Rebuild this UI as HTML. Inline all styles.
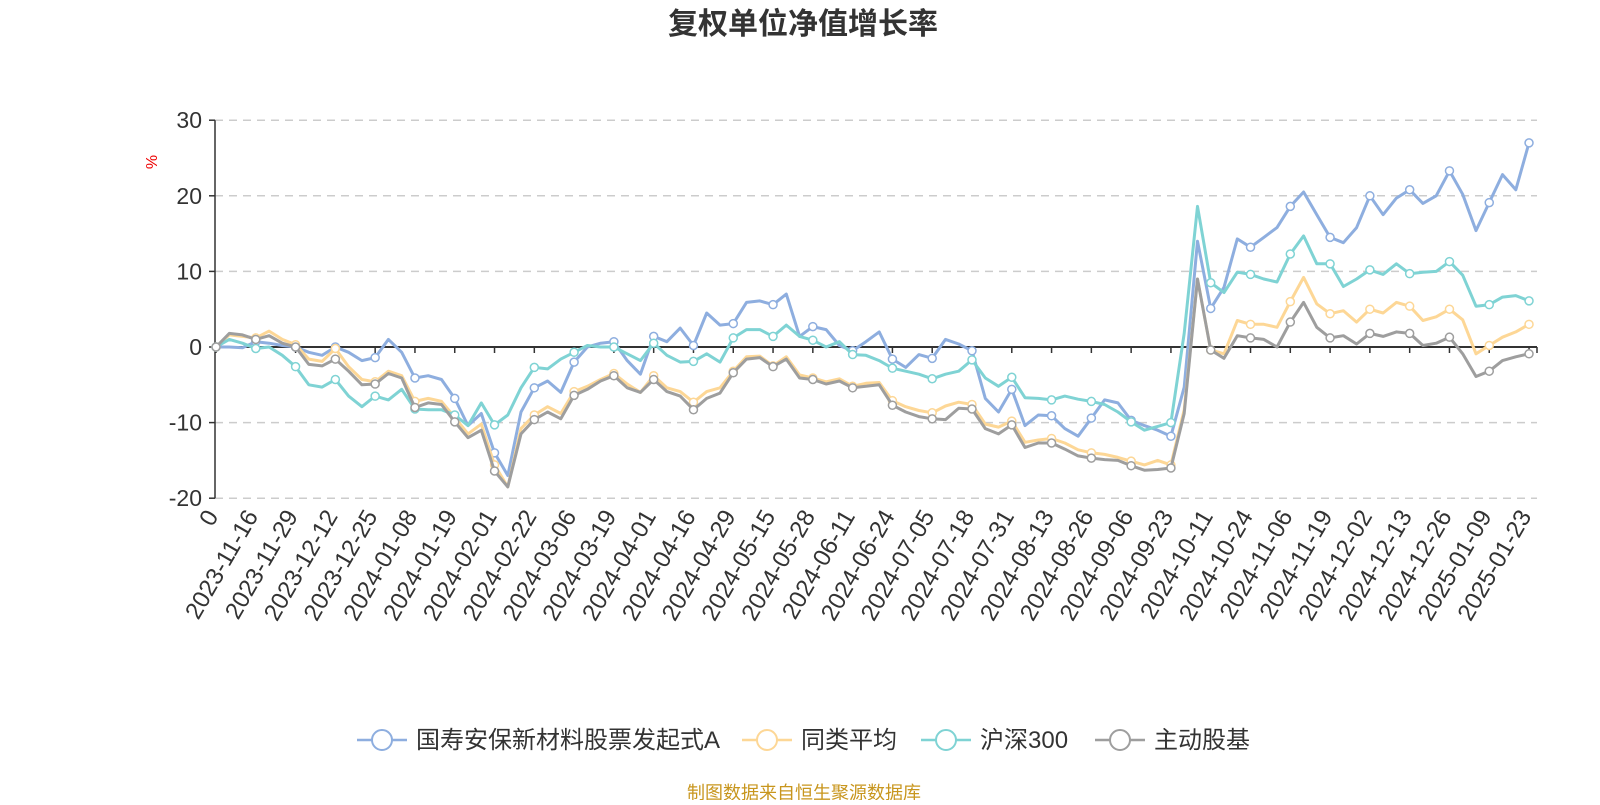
<!DOCTYPE html>
<html>
<head>
<meta charset="utf-8">
<style>
  html,body{margin:0;padding:0;background:#fff;}
  body{width:1600px;height:800px;overflow:hidden;font-family:"Liberation Sans","Noto Sans CJK SC",sans-serif;}
  svg text{font-family:"Liberation Sans","Noto Sans CJK SC",sans-serif;}
</style>
</head>
<body>
<svg id="chart" width="1600" height="800" viewBox="0 0 1600 800" xmlns="http://www.w3.org/2000/svg">
  <text x="803" y="34" text-anchor="middle" font-size="30" font-weight="bold" fill="#333">复权单位净值增长率</text>
  <text x="0" y="0" transform="translate(157,162) rotate(-90)" text-anchor="middle" font-size="16" fill="#e00">%</text>
  <g id="grid"></g>
  <g id="yaxis"></g>
  <g id="xaxis"></g>
  <g id="series"></g>
  <g id="legend"></g>
  <text x="804" y="799" text-anchor="middle" font-size="18" fill="#c8961e">制图数据来自恒生聚源数据库</text>
</svg>
<script>
const xLabels = ["0","2023-11-16","2023-11-29","2023-12-12","2023-12-25","2024-01-08","2024-01-19","2024-02-01","2024-02-22","2024-03-06","2024-03-19","2024-04-01","2024-04-16","2024-04-29","2024-05-15","2024-05-28","2024-06-11","2024-06-24","2024-07-05","2024-07-18","2024-07-31","2024-08-13","2024-08-26","2024-09-06","2024-09-23","2024-10-11","2024-10-24","2024-11-06","2024-11-19","2024-12-02","2024-12-13","2024-12-26","2025-01-09","2025-01-23"];
const yTicks = [30,20,10,0,-10,-20];
const seriesNames = ["国寿安保新材料股票发起式A","同类平均","沪深300","主动股基"];
const fundA = [0,0,-0.1,0.7,0.5,0.2,0,-0.7,-1.1,0,-0.7,-1.8,-1.4,1.0,-0.7,-4.1,-3.8,-4.3,-6.8,-10.4,-8.8,-14,-17,-8.6,-5.4,-4.5,-6,-2,0,0.5,0.7,-1.8,-3.6,
 1.4,0.7,2.5,0.2,4.5,2.9,3.1,5.9,6.1,5.6,7.0,1.4,2.7,2.3,0.2,-0.5,0.7,2.0,-1.6,-2.7,-1.0,-1.5,1.0,0.4,-0.5,-6.8,-8.6,-5.6,-10.4,-9.0,-9.1,-10.8,-11.8,-9.4,-7.0,-7.4,-9.7,-10.4,-11.0,
 -11.8,-5.3,14.0,5.1,7.9,14.3,13.2,14.5,15.8,18.6,20.5,17.5,14.5,13.8,15.8,20.0,17.5,19.7,20.8,19.0,20.0,23.3,20.2,15.4,19.1,22.8,20.8,27.0];
const peerAvg = [0,1.6,1.4,1.2,2.1,1.0,0.3,-1.6,-1.9,-0.2,-2.6,-4.3,-4.6,-3.2,-3.8,-7.2,-6.8,-7.2,-9.3,-11.5,-10.2,-15.6,-18.5,-10.8,-9.0,-7.9,-8.8,-5.9,-5.2,-4.3,-3.5,-4.9,-6.0,
 -3.8,-5.4,-5.9,-7.3,-5.9,-5.4,-3.2,-1.3,-1.2,-2.5,-1.3,-3.7,-4.1,-4.6,-4.2,-5.2,-4.8,-4.7,-7.1,-7.9,-8.4,-8.7,-7.8,-7.3,-7.6,-10.2,-10.6,-9.8,-12.6,-12.3,-12.1,-12.7,-13.6,-14.0,-14.2,-14.6,-15.1,-15.6,-15.0,
 -15.6,-8.3,9.0,-0.4,-0.9,3.5,3.0,3.0,2.6,6.0,9.2,5.7,4.4,4.8,3.3,5.0,4.5,5.9,5.4,3.5,4.0,5.0,3.6,-0.9,0.2,1.3,2.0,3.0];
const hs300 = [0,1.0,0.5,-0.2,0,-1.1,-2.6,-5,-5.3,-4.3,-6.5,-7.9,-6.5,-7.0,-5.6,-8.2,-8.3,-8.3,-9.0,-10.4,-7.4,-10.3,-9,-5.4,-2.7,-2.9,-1.6,-0.7,0.2,0,0,-0.9,-1.8,
 0.5,-1.1,-2.0,-1.9,-0.9,-2.0,1.2,2.3,2.3,1.4,2.9,1.4,0.9,0,0.7,-1.0,-1.1,-1.8,-2.8,-3.2,-3.6,-4.2,-3.6,-3.2,-1.7,-4.1,-5.2,-4.0,-6.7,-6.8,-7.0,-6.5,-6.9,-7.2,-7.6,-8.6,-9.9,-11.0,-10.5,
 -10.0,1.8,18.6,8.5,7.2,9.9,9.6,9.0,8.6,12.3,14.7,11.0,11.0,8.0,9.0,10.2,9.6,11.0,9.7,9.9,10.0,11.3,9.5,5.4,5.6,6.6,6.8,6.1];
const activeFund = [0,1.8,1.6,1.0,1.5,0.5,0,-2.3,-2.5,-1.6,-3.2,-5,-4.9,-3.5,-4.1,-8,-7.4,-7.6,-9.9,-12,-11,-16.4,-18.5,-11.5,-9.6,-8.6,-9.5,-6.4,-5.6,-4.5,-3.8,-5.4,-6.0,
 -4.3,-5.9,-6.5,-8.3,-6.8,-6.1,-3.4,-1.6,-1.4,-2.6,-1.6,-4.1,-4.3,-4.9,-4.5,-5.4,-5.2,-5.0,-7.7,-8.6,-9.2,-9.5,-9.6,-8.1,-8.2,-10.8,-11.5,-10.3,-13.3,-12.7,-12.7,-13.5,-14.4,-14.7,-14.9,-15.0,-15.7,-16.3,-16.2,
 -16.0,-8.8,9.0,-0.4,-1.5,1.5,1.2,1.0,0,3.3,5.9,2.6,1.2,1.5,0.4,1.8,1.4,2.0,1.8,0.2,0.5,1.3,-0.9,-3.9,-3.2,-1.8,-1.3,-0.9];

const NS = "http://www.w3.org/2000/svg";
const X0 = 216, DAY = 4.421, STEP = 3, AXL = 215, AXR = 1537;
const xOfDay = d => X0 + d * DAY;
const xOfIdx = i => xOfDay(i * STEP);
const yOf = v => 347 - v * 7.56;
function mk(tag, attrs, parent){const e=document.createElementNS(NS,tag);for(const k in attrs)e.setAttribute(k,attrs[k]);parent.appendChild(e);return e;}

const grid = document.getElementById('grid');
const yaxis = document.getElementById('yaxis');
yTicks.forEach(v=>{
  if(v!==0){
    const g = mk('line',{x1:AXL,x2:AXR,y1:yOf(v),y2:yOf(v),stroke:'#ccc','stroke-width':1.5,'stroke-dasharray':'8,6'},grid);
    
    
  }
  const t = mk('line',{x1:AXL-6,x2:AXL,y1:yOf(v),y2:yOf(v),stroke:'#333','stroke-width':1.5},yaxis);
  
  
  const l = mk('text',{x:AXL-13,y:yOf(v)+8,'text-anchor':'end','font-size':23,fill:'#333'},yaxis);
  l.textContent = v;
  
  
});
const ya = mk('line',{x1:AXL,x2:AXL,y1:yOf(30),y2:yOf(-20),stroke:'#333','stroke-width':1.5},yaxis);



const xaxis = document.getElementById('xaxis');
const xa = mk('line',{x1:AXL,x2:AXR,y1:yOf(0),y2:yOf(0),stroke:'#333','stroke-width':2},xaxis);


xLabels.forEach((lab,k)=>{
  const x = xOfDay(k*9);
  const t = mk('line',{x1:x,x2:x,y1:yOf(0),y2:yOf(0)+6,stroke:'#333','stroke-width':1.5},xaxis);
  
  
  const tx = mk('text',{x:0,y:0,'text-anchor':'end','font-size':24,fill:'#333',transform:`translate(${x+3},${516}) rotate(-60)`},xaxis);
  tx.textContent = lab;
  
  
});
mk('line',{x1:AXR,x2:AXR,y1:yOf(0),y2:yOf(0)+6,stroke:'#333','stroke-width':1.5},xaxis);

const colors = ['#8eaedf','#fdd796','#7fd3d4','#9e9e9e'];
const allSeries = [fundA, peerAvg, hs300, activeFund];
const sNames = ['series-fund-a','series-peer-average','series-hs300','series-active-equity'];
const sg = document.getElementById('series');
allSeries.forEach((data,si)=>{
  const g = mk('g',{},sg);
  
  
  const pts = data.map((v,i)=>xOfIdx(i).toFixed(1)+','+yOf(v).toFixed(1)).join(' ');
  const pl = mk('polyline',{points:pts,fill:'none',stroke:colors[si],'stroke-width':3,'stroke-linejoin':'round'},g);
  
  
  data.forEach((v,i)=>{
    if(i%3===0){
      const c = mk('circle',{cx:xOfIdx(i),cy:yOf(v),r:4,fill:'#fff',stroke:colors[si],'stroke-width':1.5},g);
      
      
    }
  });
});

const legend = document.getElementById('legend');
const legX = [357, 742, 921, 1095];
seriesNames.forEach((n,i)=>{
  const g = mk('g',{},legend);
  
  
  const x = legX[i], y = 740;
  mk('line',{x1:x,x2:x+50,y1:y,y2:y,stroke:colors[i],'stroke-width':2.5},g);
  mk('circle',{cx:x+25,cy:y,r:10,fill:'#fff',stroke:colors[i],'stroke-width':2},g);
  const t = mk('text',{x:x+59,y:y+8,'font-size':24,fill:'#333'},g);
  t.textContent = n;
});
</script>
</body>
</html>
